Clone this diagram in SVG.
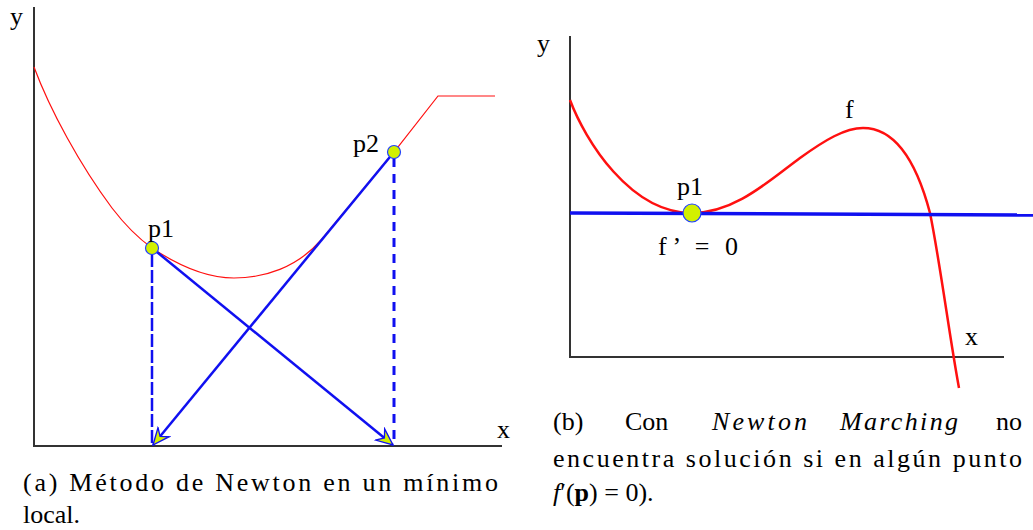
<svg xmlns="http://www.w3.org/2000/svg" width="1033" height="530" viewBox="0 0 1033 530">
<defs>
<marker id="ah" markerUnits="userSpaceOnUse" markerWidth="20" markerHeight="20" viewBox="-16 -8 18 16" refX="0" refY="0" orient="auto">
<path d="M0,0 L-15,-6.5 L-10,0 L-15,6.5 Z" fill="#d2f000" stroke="#1010f0" stroke-width="1.2" stroke-linejoin="miter"/>
</marker>
<circle id="pt" r="6.5" fill="#d2f000" stroke="#2040ff" stroke-width="1.2"/>
</defs>
<g id="panel-a">
<g id="axes-a" stroke="#333" stroke-width="2">
<line x1="34" y1="7" x2="34" y2="446"/>
<line x1="33" y1="446" x2="502" y2="446"/>
</g>
<text x="10" y="25" font-family="Liberation Serif" font-size="26">y</text>
<text x="497" y="438" font-family="Liberation Serif" font-size="26">x</text>
<path id="curve-a" d="M34,67 C50,110 80,165 112,208 C125,225 138,238 152,248 C179,266 206,278 234,278 C264,278 297,268 322,239 L394,152 L438,96 L495,96" fill="none" stroke="#ff1010" stroke-width="1.2"/>
<g id="connectors" stroke="#1010f0" fill="none">
<line x1="152" y1="254" x2="152" y2="446" stroke-width="2.5" stroke-dasharray="13,3"/>
<line x1="394" y1="158" x2="394" y2="446" stroke-width="3" stroke-dasharray="9,7"/>
<line x1="152" y1="248" x2="393" y2="445" stroke-width="2.5" marker-end="url(#ah)"/>
<line x1="394" y1="152" x2="153" y2="445" stroke-width="2.5" marker-end="url(#ah)"/>
</g>
<g id="p1-a">
<use href="#pt" x="152" y="248"/>
<text x="148" y="237" font-family="Liberation Serif" font-size="26">p1</text>
</g>
<g id="p2-a">
<use href="#pt" x="394" y="152"/>
<text x="353" y="152" font-family="Liberation Serif" font-size="26">p2</text>
</g>
<g id="caption-a">
<text x="23" y="491" font-family="Liberation Serif" font-size="26" textLength="475" lengthAdjust="spacing">(a) Método de Newton en un mínimo</text>
<text x="23" y="523" font-family="Liberation Serif" font-size="26">local.</text>
</g>
</g>
<g id="panel-b">
<g id="axes-b" stroke="#333" stroke-width="2">
<line x1="570" y1="36" x2="570" y2="357"/>
<line x1="569" y1="357" x2="1004" y2="357"/>
</g>
<text x="537" y="52" font-family="Liberation Serif" font-size="26">y</text>
<text x="965" y="345" font-family="Liberation Serif" font-size="26">x</text>
<path id="curve-b" d="M570,100 C585,140 630,213 692,213 C735,213 770,180 800,158 C825,140 845,128 863,128 C895,128 916,160 930,213 C940,262 950,340 959,388" fill="none" stroke="#ff1010" stroke-width="2.5"/>
<line id="tangent-b" x1="570" y1="213" x2="1033" y2="215" stroke="#1010f0" stroke-width="3.5"/>
<g id="p1-b">
<circle cx="692" cy="213" r="9" fill="#d2f000" stroke="#2040ff" stroke-width="1.2"/>
<text x="677" y="195" font-family="Liberation Serif" font-size="26">p1</text>
<text x="658" y="255" font-family="Liberation Serif" font-size="26" textLength="80" lengthAdjust="spacing">f’ = 0</text>
</g>
<text x="845" y="118" font-family="Liberation Serif" font-size="26">f</text>
<g id="caption-b">
<text x="553" y="430" font-family="Liberation Serif" font-size="26">(b)</text>
<text x="625" y="430" font-family="Liberation Serif" font-size="26">Con</text>
<text x="712" y="430" font-family="Liberation Serif" font-size="26" font-style="italic" textLength="95" lengthAdjust="spacing">Newton</text>
<text x="840" y="430" font-family="Liberation Serif" font-size="26" font-style="italic" textLength="118" lengthAdjust="spacing">Marching</text>
<text x="1022" y="430" font-family="Liberation Serif" font-size="26" text-anchor="end">no</text>
<text x="553" y="467" font-family="Liberation Serif" font-size="26" textLength="469" lengthAdjust="spacing">encuentra solución si en algún punto</text>
<text x="553" y="501" font-family="Liberation Serif" font-size="26"><tspan font-style="italic">f</tspan>′(<tspan font-weight="bold">p</tspan>) = 0).</text>
</g>
</g>
</svg>
